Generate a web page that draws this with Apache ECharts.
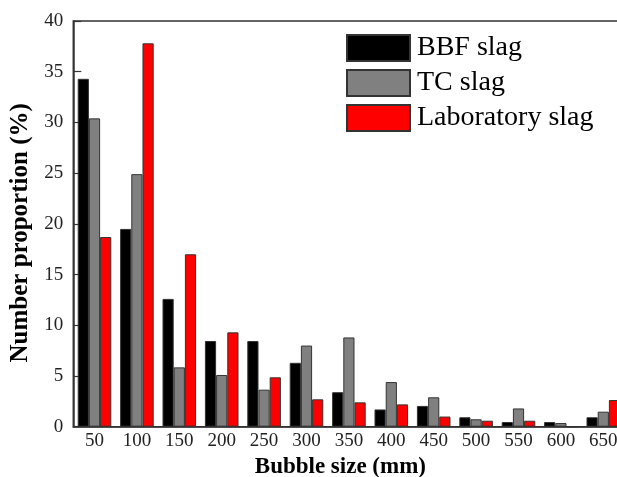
<!DOCTYPE html>
<html>
<head>
<meta charset="utf-8">
<script src="https://cdn.jsdelivr.net/npm/echarts@6/dist/echarts.min.js"></script>
<style>html,body{margin:0;padding:0;background:#fff;}#c{width:617px;height:477px;}</style>
</head>
<body>
<div id="c"></div>
<script>
const categories = ['50','100','150','200','250','300','350','400','450','500','550','600','650'];
const bbfSlag = [34.3, 19.5, 12.6, 8.45, 8.45, 6.3, 3.4, 1.7, 2.05, 0.93, 0.46, 0.46, 0.93];
const tcSlag = [30.4, 24.9, 5.85, 5.1, 3.65, 8.0, 8.8, 4.4, 2.9, 0.73, 1.8, 0.36, 1.48];
const labSlag = [18.7, 37.8, 17.0, 9.3, 4.87, 2.7, 2.4, 2.2, 1.0, 0.59, 0.59, 0, 2.63];
const yTicks = [0, 5, 10, 15, 20, 25, 30, 35, 40];

const font = '"Liberation Serif", "Times New Roman", serif';
const chart = echarts.init(document.getElementById('c'), null, {renderer: 'canvas'});
function bar(name, data, color) {
  return {
    name: name, type: 'bar', data: data,
    barGap: '0%', barCategoryGap: '20.8%',
    itemStyle: {color: color, borderColor: '#333', borderWidth: 1}
  };
}
chart.setOption({
  animation: false,
  backgroundColor: '#fff',
  grid: {left: 73.3, top: 21, width: 551.2, height: 405.7, containLabel: false, outerBoundsMode: 'none',
         show: true, borderColor: '#333', borderWidth: 1.5, backgroundColor: 'transparent'},
  legend: {
    orient: 'vertical', left: 341, top: 29, padding: 5, itemWidth: 63, itemHeight: 26, itemGap: 7,
    icon: 'rect',
    textStyle: {fontFamily: font, fontSize: 28, color: '#000', padding: [0, 0, 0, 2]},
    data: ['BBF slag', 'TC slag', 'Laboratory slag']
  },
  xAxis: {
    type: 'category', data: categories,
    name: 'Bubble size (mm)', nameLocation: 'middle', nameGap: 26,
    nameTextStyle: {fontFamily: font, fontSize: 23, fontWeight: 'bold', color: '#000', padding: [0, 17, 0, 0]},
    axisLine: {lineStyle: {color: '#333', width: 1.5}},
    axisTick: {show: false},
    axisLabel: {fontFamily: font, fontSize: 19, color: '#222', margin: 5},
    splitLine: {show: false}
  },
  yAxis: {
    type: 'value', min: yTicks[0], max: yTicks[yTicks.length - 1], interval: 5,
    name: 'Number proportion (%)', nameLocation: 'middle', nameGap: 38,
    nameTextStyle: {fontFamily: font, fontSize: 25, fontWeight: 'bold', color: '#000', padding: [0, 18, 0, 0]},
    axisLine: {show: true, lineStyle: {color: '#333', width: 1.5}},
    axisTick: {show: true, inside: true, length: 8, lineStyle: {color: '#333', width: 1.2}},
    axisLabel: {fontFamily: font, fontSize: 19, color: '#222', margin: 10},
    splitLine: {show: false}
  },
  series: [
    bar('BBF slag', bbfSlag, '#000000'),
    bar('TC slag', tcSlag, '#808080'),
    bar('Laboratory slag', labSlag, '#ff0000')
  ]
});
</script>
</body>
</html>
